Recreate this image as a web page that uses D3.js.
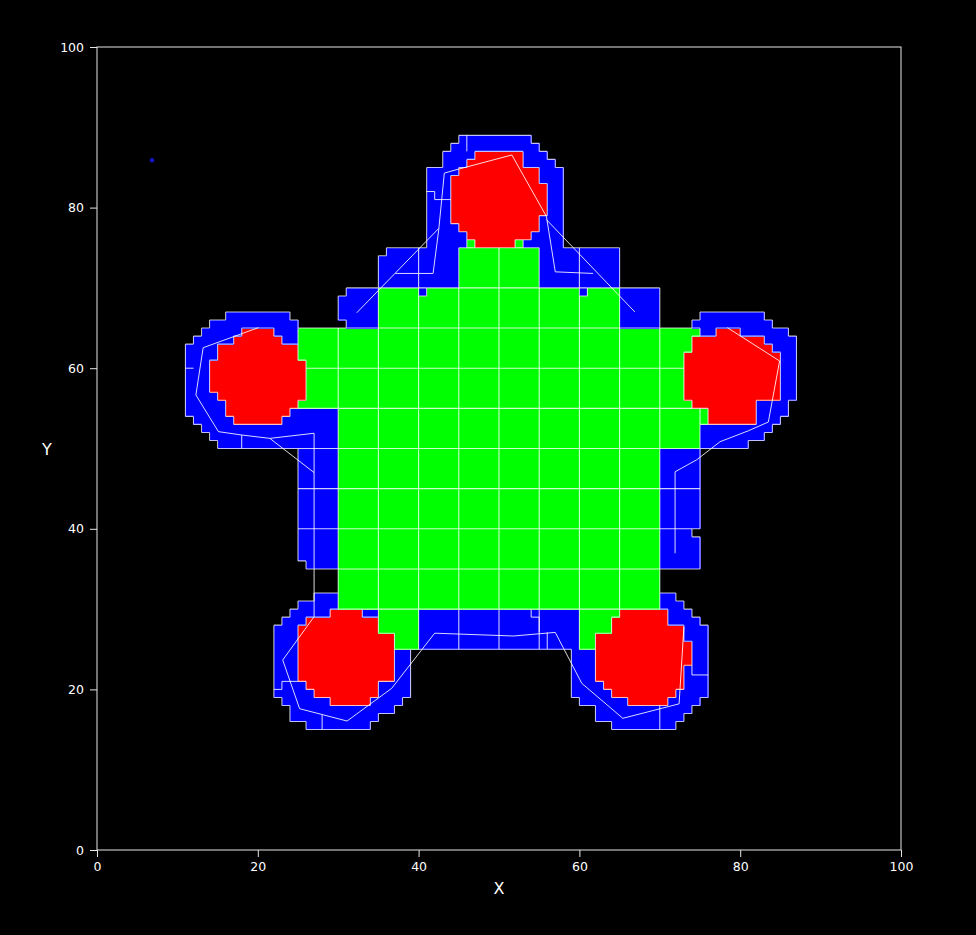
<!DOCTYPE html>
<html><head><meta charset="utf-8">
<script src="https://cdn.jsdelivr.net/npm/d3@7"></script>
<style>html,body{margin:0;background:#000}</style>
</head><body>
<svg id="c" width="976" height="935"></svg>
<script>
const xTicks=[0,20,40,60,80,100];
const yTicks=[0,20,40,60,80,100];
const xLabel="X", yLabel="Y";
// runs: [rowFrom,rowTo,colFrom,colToExclusive]
const blueRuns=[
 [88,88,45,54],[87,87,44,55],[86,86,43,56],[85,85,43,57],[75,84,41,58],
 [74,74,36,65],[70,73,35,65],[69,69,31,70],[66,68,30,70],[65,65,31,70],
 [66,66,16,24],[65,65,14,25],[64,64,13,25],[63,63,12,25],[61,62,11,25],[56,60,11,26],[55,55,11,25],
 [54,54,11,30],[53,53,12,30],[52,52,13,30],[51,51,14,30],[50,50,15,30],[36,49,25,30],[35,35,26,30],
 [31,31,27,30],[30,30,25,30],[29,29,24,35],[28,28,23,35],[27,27,22,35],[25,26,22,37],[19,24,22,39],
 [18,18,23,38],[17,17,24,37],[16,16,24,35],[15,15,26,34],
 [25,29,40,60],
 [31,31,70,72],[30,30,70,73],[29,29,70,74],[28,28,70,75],[25,27,70,76],[19,24,59,76],[18,18,60,75],
 [17,17,62,74],[16,16,62,73],[15,15,64,72],
 [40,49,70,75],[39,39,70,74],[35,38,70,75],
 [66,66,75,83],[65,65,74,84],[64,64,75,86],[62,63,74,87],[56,61,73,87],[55,55,74,86],[54,54,76,86],
 [53,53,76,85],[52,52,75,84],[51,51,75,83],[50,50,75,81]
];
const greenRuns=[
 [75,75,46,47],[75,75,52,53],[70,74,45,55],[69,69,35,40],[69,69,41,60],[69,69,61,65],[65,68,35,65],
 [64,64,25,75],[62,63,25,74],[61,61,25,73],[56,60,26,73],[55,55,25,74],[53,54,30,76],[50,52,30,75],
 [30,49,30,70],[25,29,35,40],[25,29,60,65]
];
const redRuns=[
 [86,86,47,53],[85,85,46,53],[84,84,45,55],[83,83,44,55],[79,82,44,56],[78,78,44,55],[77,77,45,55],[76,76,46,54],[75,75,47,52],
 [64,64,18,22],[63,63,17,23],[61,62,15,25],[57,60,14,26],[56,56,15,26],[55,55,16,25],[54,54,16,24],[53,53,17,23],
 [64,64,77,80],[63,63,74,83],[62,62,74,84],[56,61,73,85],[55,55,74,82],[53,54,76,82],
 [29,29,29,33],[28,28,26,35],[27,27,25,35],[21,26,25,37],[20,20,26,35],[19,19,27,35],[18,18,29,34],
 [29,29,65,71],[28,28,64,71],[27,27,64,73],[26,26,62,73],[23,25,62,74],[21,22,62,73],[20,20,63,73],[19,19,64,72],[18,18,66,71]
];
// rectangular blue blocks that carry the 5x5 partition lines
const blockZones=[[25,35,30,55],[70,35,75,50],[40,25,60,30],[30,65,70,75]];
// free-hand white boundary lines (data coords)
const whitePaths=[
 [[37.1,71.8],[41.8,71.8],[42.5,77.2],[43.2,84.3],[45,84.8],[51.6,86.55],[55.9,78.9],[57,72],[61.7,71.8]],
 [[32.3,66.9],[42.5,77.4]],
 [[55.9,78.5],[66.9,67.0]],
 [[20.07,65.05],[13.2,62.55],[12.3,56.66],[15.1,52.1],[18,51.68],[21.5,51.26],[27,51.9],[27,29.05],[23.1,23.66],[25.2,17.6],[31.1,16.06],[36.65,20.13],[42,27],[51.8,26.65],[57,27.1],[60.3,20.75],[65.4,16.4],[72.4,18.2],[73,27.8]],
 [[21.5,51.26],[27,47]],
 [[78.4,65.05],[84.9,60.9],[83.5,53.3],[81,52.2],[77.5,50.85],[74.6,48.6],[71.9,47.1],[71.9,36.95]],
 [[46,89],[46,87]],
 [[41,82],[42,82],[42,81],[44,81]],
 [[11,60],[12,60]],
 [[18,51.68],[18,50]],
 [[28,16.8],[28,15]],
 [[70,18],[70,15]],
 [[74,23],[74,21.8],[76,21.8]],
 [[54,30],[54,29],[55,29],[55,27.1]],
 [[56,27.1],[56,25]],
 [[22,20],[23,20],[23,21],[25,21]]
];
const dots=[[6.84,85.9]];

const W=976,H=935;
const svg=d3.select('#c');
svg.append('rect').attr('width',W).attr('height',H).attr('fill','#000');
const x=d3.scaleLinear().domain([0,100]).range([97,901]);
const y=d3.scaleLinear().domain([0,100]).range([850,47]);

const N=100;
const grid=Array.from({length:N},()=>new Array(N).fill(0));
function paint(runs,code){runs.forEach(([ya,yb,x0,x1])=>{for(let j=ya;j<=yb;j++)for(let i=x0;i<x1;i++)grid[j][i]=code;});}
paint(blueRuns,1);paint(greenRuns,2);paint(redRuns,3);
const colors=['#000000','#0000ff','#00ff00','#ff0000'];
const cells=[];
for(let j=0;j<N;j++)for(let i=0;i<N;i++)if(grid[j][i])cells.push({i,j,c:grid[j][i]});

const g=svg.append('g');
g.selectAll('rect').data(cells).join('rect')
 .attr('x',d=>x(d.i)).attr('y',d=>y(d.j+1))
 .attr('width',d=>x(d.i+1)-x(d.i)+0.5).attr('height',d=>y(d.j)-y(d.j+1)+0.5)
 .attr('fill',d=>colors[d.c]).attr('shape-rendering','crispEdges');

const get=(i,j)=>(i<0||j<0||i>=N||j>=N)?0:grid[j][i];
const inZone=(i,j)=>blockZones.some(([x0,y0,x1,y1])=>i>=x0&&i<x1&&j>=y0&&j<y1);
let edge='',part='';
for(let j=0;j<N;j++)for(let i=0;i<N;i++){
  const c=get(i,j),r=get(i+1,j),t=get(i,j+1);
  if(c!==r&&(c||r)) edge+=`M${x(i+1)},${y(j)}V${y(j+1)}`;
  if(c!==t&&(c||t)) edge+=`M${x(i)},${y(j+1)}H${x(i+1)}`;
  if(c&&c===r&&(i+1)%5===0&&(c===2||(c===1&&inZone(i,j)&&inZone(i+1,j)))) part+=`M${x(i+1)},${y(j)}V${y(j+1)}`;
  if(c&&c===t&&(j+1)%5===0&&(c===2||(c===1&&inZone(i,j)&&inZone(i,j+1)))) part+=`M${x(i)},${y(j+1)}H${x(i+1)}`;
}
svg.append('path').attr('d',edge).attr('fill','none').attr('stroke','#ffffff').attr('stroke-opacity',0.75).attr('stroke-width',1.1);
svg.append('path').attr('d',part).attr('fill','none').attr('stroke','#ffffff').attr('stroke-opacity',0.8).attr('stroke-width',1.1);

const line=d3.line().x(d=>x(d[0])).y(d=>y(d[1]));
svg.append('g').selectAll('path').data(whitePaths).join('path')
 .attr('d',line).attr('fill','none').attr('stroke','#ffffff').attr('stroke-opacity',0.85).attr('stroke-width',1);

svg.append('g').selectAll('circle').data(dots).join('circle')
 .attr('cx',d=>x(d[0])).attr('cy',d=>y(d[1])).attr('r',2.2).attr('fill','#1a1aff').attr('opacity',0.8);

// frame
svg.append('rect').attr('x',x(0)).attr('y',y(100)).attr('width',x(100)-x(0)).attr('height',y(0)-y(100))
 .attr('fill','none').attr('stroke','#e6e6e6').attr('stroke-width',1);

const font='"DejaVu Sans", sans-serif';
const ax=svg.append('g').attr('transform',`translate(0,${y(0)})`).call(d3.axisBottom(x).tickValues(xTicks).tickSize(7).tickPadding(5));
const ay=svg.append('g').attr('transform',`translate(${x(0)},0)`).call(d3.axisLeft(y).tickValues(yTicks).tickSize(7).tickPadding(6));
[ax,ay].forEach(a=>{
  a.select('.domain').remove();
  a.selectAll('line').attr('stroke','#e6e6e6');
  a.selectAll('text').attr('fill','#ffffff').style('font-family',font).style('font-size','12.5px');
});
svg.append('text').attr('x',(x(0)+x(100))/2).attr('y',894).attr('text-anchor','middle')
 .attr('fill','#fff').style('font-family',font).style('font-size','16px').text(xLabel);
svg.append('text').attr('x',47).attr('y',(y(0)+y(100))/2+6).attr('text-anchor','middle')
 .attr('fill','#fff').style('font-family',font).style('font-size','16px').text(yLabel);
</script>
</body></html>
